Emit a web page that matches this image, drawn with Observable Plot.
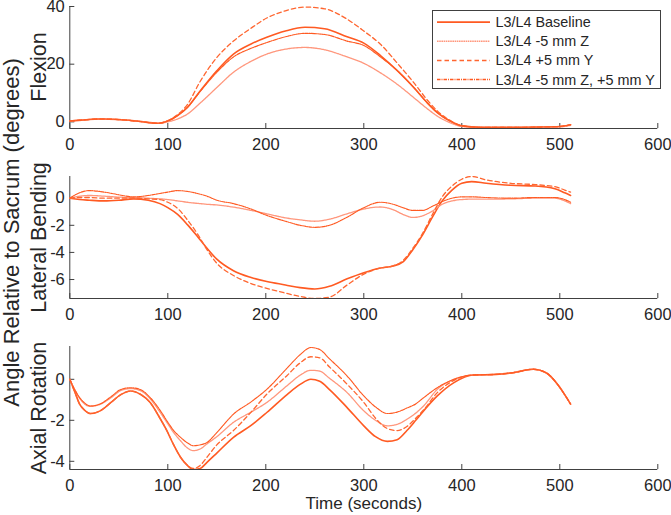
<!DOCTYPE html>
<html>
<head>
<meta charset="utf-8">
<script src="https://cdn.jsdelivr.net/npm/d3@7"></script>
<script src="https://cdn.jsdelivr.net/npm/@observablehq/plot@0.6"></script>
<style>
  html, body { margin: 0; padding: 0; background: #fff; }
  #wrap { position: relative; width: 671px; height: 515px; overflow: hidden; font-family: "Liberation Sans", Arial, sans-serif; }
  .panel { position: absolute; left: 0; }
  #legend { position: absolute; z-index: 5; }
  #outer { position: absolute; left: 0; top: 0; z-index: 4; }
</style>
</head>
<body>
<div id="wrap"></div>
<script>
// ---------------- data ----------------
const seriesNames = ["L3/L4 Baseline", "L3/L4 -5 mm Z", "L3/L4 +5 mm Y", "L3/L4 -5 mm Z, +5 mm Y"];
const panelLabels = ["Flexion", "Lateral Bending", "Axial Rotation"];
const yTitle = "Angle Relative to Sacrum (degrees)";
const xTitle = "Time (seconds)";
const xTicks = [0, 100, 200, 300, 400, 500, 600];

// Flexion
const tFlex = [0, 15, 30, 50, 70, 90, 100, 110, 120, 133, 150, 167, 185, 201, 220, 240, 260, 283, 300, 317, 335, 351, 365, 375, 388, 400, 420, 450, 480, 500, 511];
const flexBase = [0.3, 0.7, 1.0, 0.8, 0.2, -0.5, 0.3, 2.2, 5.0, 10.7, 17.7, 23.5, 27.0, 29.3, 31.5, 32.8, 32.3, 29.5, 27.3, 23.0, 17.5, 11.9, 6.5, 3.2, 0.3, -1.4, -1.9, -1.9, -1.8, -1.6, -1.0];
const flexZ = [0.3, 0.7, 1.0, 0.8, 0.2, -0.5, 0.0, 1.0, 2.7, 6.5, 11.9, 17.2, 21.0, 23.5, 25.2, 25.8, 25.0, 22.5, 20.3, 17.0, 12.8, 8.4, 4.5, 2.0, -0.3, -1.6, -2.0, -2.0, -2.0, -1.8, -1.2];
const flexY = [0.3, 0.7, 1.0, 0.8, 0.2, -0.5, 0.4, 2.5, 6.0, 14.0, 22.3, 28.0, 32.5, 36.0, 38.5, 39.8, 39.2, 35.6, 31.5, 26.9, 20.0, 13.6, 7.5, 3.8, 0.5, -1.3, -1.9, -1.9, -1.8, -1.6, -1.0];
const flexZY = [0.3, 0.7, 1.0, 0.8, 0.2, -0.5, 0.3, 2.2, 5.0, 10.5, 17.2, 22.5, 25.5, 27.5, 29.5, 30.7, 30.3, 28.0, 26.5, 22.5, 17.5, 11.9, 6.5, 3.2, 0.3, -1.4, -1.9, -1.9, -1.8, -1.6, -1.0];
const flexTicks = [0, 20, 40];
const flexDomain = [-2.3, 40];

// Lateral bending
const tLat = [0, 10, 20, 35, 50, 65, 80, 92, 100, 110, 120, 130, 140, 150, 167, 185, 201, 220, 235, 250, 265, 283, 300, 317, 330, 340, 350, 360, 370, 380, 390, 400, 410, 425, 450, 475, 495, 505, 511];
const latBase = [0, -0.1, -0.15, -0.2, -0.15, -0.05, -0.15, -0.4, -0.7, -1.2, -1.95, -2.8, -3.7, -4.5, -5.35, -5.85, -6.15, -6.4, -6.6, -6.7, -6.5, -5.95, -5.5, -5.15, -5.0, -4.7, -3.8, -2.7, -1.4, -0.2, 0.6, 1.1, 1.22, 1.1, 0.95, 0.9, 0.7, 0.4, 0.2];
const latZ = [0, 0.15, 0.2, 0.15, 0.08, 0.05, 0.0, -0.05, -0.1, -0.2, -0.3, -0.38, -0.45, -0.5, -0.66, -0.9, -1.15, -1.45, -1.6, -1.7, -1.55, -1.15, -0.8, -0.65, -0.85, -1.2, -1.42, -1.3, -0.95, -0.45, -0.2, -0.1, -0.07, -0.07, -0.05, 0.0, 0.0, -0.2, -0.4];
const latY = [0, 0.05, 0.05, 0.0, 0.0, 0.0, -0.05, -0.1, -0.3, -0.75, -1.6, -2.6, -3.8, -4.8, -5.7, -6.3, -6.65, -7.0, -7.25, -7.4, -7.3, -6.4, -5.6, -5.15, -5.0, -4.6, -3.7, -2.6, -1.2, 0.1, 0.9, 1.4, 1.6, 1.35, 1.1, 1.0, 0.85, 0.6, 0.45];
const latZY = [0, 0.4, 0.56, 0.45, 0.25, 0.1, 0.2, 0.35, 0.45, 0.56, 0.5, 0.35, 0.15, -0.15, -0.4, -0.8, -1.27, -1.7, -2.0, -2.15, -2.0, -1.4, -0.7, -0.3, -0.45, -0.7, -0.9, -0.9, -0.6, -0.25, 0.0, 0.1, 0.1, 0.05, 0.0, 0.05, 0.05, -0.1, -0.3];
const latTicks = [-6, -4, -2, 0];
const latDomain = [-7.4, 1.6];

// Axial rotation
const tAx = [0, 5, 10, 15, 21, 31, 42, 52, 62, 72, 82, 92, 99, 106, 113, 120, 126, 133, 140, 150, 167, 185, 201, 222, 235, 246, 255, 265, 283, 300, 312, 324, 334, 344, 353, 361, 375, 392, 412, 435, 452, 473, 486, 499, 505, 511];
const axBase = [0, -0.6, -1.21, -1.5, -1.67, -1.54, -1.13, -0.75, -0.57, -0.73, -1.13, -1.9, -2.5, -3.2, -3.8, -4.2, -4.4, -4.35, -4.05, -3.6, -2.83, -2.25, -1.62, -0.73, -0.25, 0.0, -0.1, -0.5, -1.38, -2.27, -2.8, -3.03, -2.95, -2.5, -2.0, -1.54, -0.81, -0.16, 0.21, 0.24, 0.32, 0.49, 0.32, -0.33, -0.75, -1.21];
const axZ = [0, -0.5, -0.92, -1.2, -1.32, -1.22, -0.9, -0.55, -0.45, -0.55, -0.95, -1.6, -2.1, -2.6, -3.0, -3.35, -3.48, -3.4, -3.15, -2.8, -2.1, -1.6, -1.13, -0.3, 0.2, 0.44, 0.4, 0.05, -0.65, -1.54, -2.0, -2.27, -2.2, -1.95, -1.65, -1.3, -0.49, 0.0, 0.21, 0.24, 0.32, 0.49, 0.32, -0.33, -0.75, -1.21];
const axY = [0, -0.6, -1.21, -1.5, -1.67, -1.54, -1.13, -0.75, -0.57, -0.73, -1.13, -1.9, -2.5, -3.2, -3.8, -4.2, -4.35, -4.2, -3.8, -3.2, -2.5, -1.6, -0.73, 0.2, 0.8, 1.1, 1.05, 0.6, -0.24, -1.13, -1.9, -2.4, -2.5, -2.3, -1.9, -1.5, -0.65, -0.05, 0.21, 0.24, 0.32, 0.49, 0.32, -0.33, -0.75, -1.21];
const axZY = [0, -0.5, -0.89, -1.15, -1.3, -1.2, -0.85, -0.5, -0.41, -0.5, -0.89, -1.5, -2.02, -2.5, -2.83, -3.1, -3.24, -3.2, -3.08, -2.6, -1.7, -1.1, -0.49, 0.56, 1.2, 1.55, 1.45, 1.0, 0.16, -0.81, -1.35, -1.67, -1.6, -1.4, -1.2, -0.9, -0.41, 0.0, 0.21, 0.24, 0.32, 0.49, 0.32, -0.33, -0.75, -1.21];
const axTicks = [-4, -2, 0];
const axDomain = [-4.4, 1.6];

// ---------------- styles ----------------
const lineStyles = [
  { color: "#ff5a22", width: 1.6, dash: null },
  { color: "#ff977d", width: 1.3, dash: "1.6,0.6" },
  { color: "#ff6630", width: 1.3, dash: "4.5,3" },
  { color: "#ff5a22", width: 1.15, dash: "3.5,1,1,1" }
];
const ink = "#262626";
const axisInk = "#404040";
const fontFamily = "'Liberation Sans', Arial, Helvetica, sans-serif";
const W = 671, ML = 69.3, MR = 13.7;

function makePanel({ t, ys, yDomain, yTicks, top, mt, frameBottom, mb, xLabel }) {
  const height = frameBottom - top + mb;
  const frameH = height - mt - mb;
  const frameW = W - ML - MR;
  const marks = [];
  marks.push(Plot.ruleX([0], { stroke: axisInk, strokeWidth: 1 }));
  marks.push(Plot.ruleY([yDomain[0]], { stroke: axisInk, strokeWidth: 1 }));
  marks.push(Plot.tickX(xTicks, { x: d => d, insetTop: frameH - 5, stroke: axisInk }));
  marks.push(Plot.tickY(yTicks, { y: d => d, insetRight: frameW - 5, stroke: axisInk }));
  marks.push(Plot.axisX(xTicks, { tickSize: 0, tickPadding: 10, fontSize: 16.5, fill: ink, tickFormat: d => String(d), label: null }));
  marks.push(Plot.axisY(yTicks, { tickSize: 0, tickPadding: 5, fontSize: 16.5, fill: ink, tickFormat: d => String(d), label: null }));
  ys.forEach((vals, i) => {
    const data = t.map((x, j) => ({ t: x, v: vals[j], s: seriesNames[i] }));
    const st = lineStyles[i];
    marks.push(Plot.line(data, {
      x: "t", y: "v", curve: "monotone-x", clip: true,
      stroke: st.color, strokeWidth: st.width, strokeDasharray: st.dash
    }));
  });
  if (xLabel) {
    marks.push(Plot.text([xLabel], { text: d => d, frameAnchor: "bottom", dy: 34, fontSize: 17, fill: ink, lineAnchor: "middle" }));
  }
  const svg = Plot.plot({
    width: W, height,
    marginLeft: ML, marginRight: MR, marginTop: mt, marginBottom: mb,
    style: { fontFamily, background: "transparent", overflow: "visible" },
    x: { domain: [0, 600], label: null },
    y: { domain: yDomain, label: null },
    marks
  });
  svg.classList.add("panel");
  svg.style.top = top + "px";
  svg.style.position = "absolute";
  return svg;
}

const wrap = document.getElementById("wrap");
wrap.appendChild(makePanel({ t: tFlex, ys: [flexBase, flexZ, flexY, flexZY], yDomain: flexDomain, yTicks: flexTicks, top: 0, mt: 6, frameBottom: 128, mb: 25 }));
wrap.appendChild(makePanel({ t: tLat, ys: [latBase, latZ, latY, latZY], yDomain: latDomain, yTicks: latTicks, top: 160, mt: 16, frameBottom: 298, mb: 25 }));
wrap.appendChild(makePanel({ t: tAx, ys: [axBase, axZ, axY, axZY], yDomain: axDomain, yTicks: axTicks, top: 330, mt: 16, frameBottom: 469, mb: 46, xLabel: xTitle }));

// y titles (outer + per-panel)
const outer = d3.create("svg").attr("id", "outer").attr("width", 60).attr("height", 515);
outer.append("text")
  .attr("transform", "translate(18.5,232.5) rotate(-90)")
  .attr("text-anchor", "middle")
  .attr("font-family", fontFamily).attr("font-size", 22).attr("fill", ink)
  .text(yTitle);
const panelCenters = [67, 237.5, 408];
panelLabels.forEach((lab, i) => {
  outer.append("text")
    .attr("transform", `translate(45.5,${panelCenters[i]}) rotate(-90)`)
    .attr("text-anchor", "middle")
    .attr("font-family", fontFamily).attr("font-size", 21.5).attr("fill", ink)
    .text(lab);
});
wrap.appendChild(outer.node());

// legend
const lg = d3.create("svg").attr("id", "legend")
  .attr("width", 229).attr("height", 79)
  .style("left", "431.5px").style("top", "9.5px");
lg.append("rect").attr("x", 0.5).attr("y", 0.5).attr("width", 228).attr("height", 78)
  .attr("fill", "#fff").attr("stroke", axisInk).attr("stroke-width", 1);
seriesNames.forEach((name, i) => {
  const yy = 12.2 + i * 19.1;
  const st = lineStyles[i];
  lg.append("line").attr("x1", 5).attr("x2", 58).attr("y1", yy).attr("y2", yy)
    .attr("stroke", st.color).attr("stroke-width", st.width + 0.2)
    .attr("stroke-dasharray", st.dash);
  lg.append("text").attr("x", 63.5).attr("y", yy).attr("dy", "0.35em")
    .attr("font-family", fontFamily).attr("font-size", 14.4).attr("fill", ink)
    .text(name);
});
wrap.appendChild(lg.node());
</script>
</body>
</html>
